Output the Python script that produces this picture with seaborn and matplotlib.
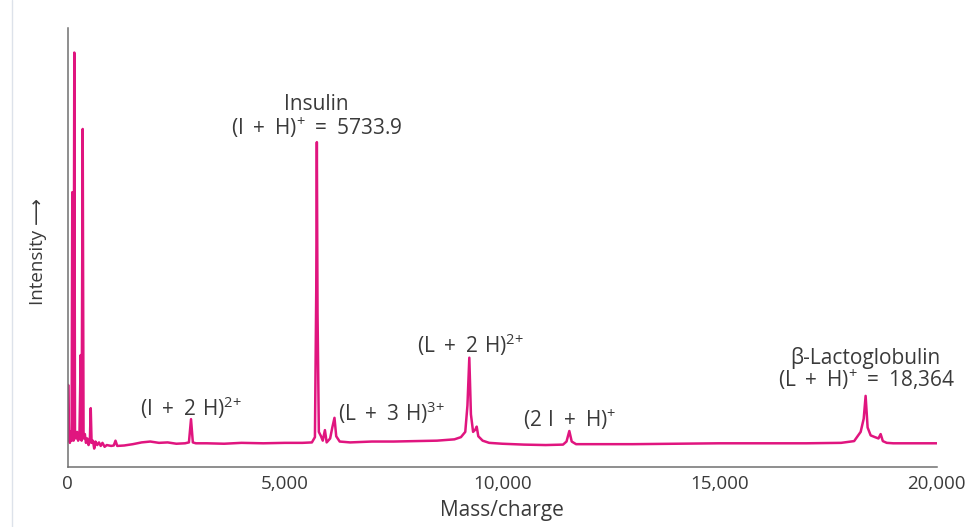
import matplotlib
matplotlib.use("Agg")
import matplotlib.pyplot as plt
import seaborn as sns
import pandas as pd
from matplotlib.lines import Line2D

# ---- data (m/z, relative intensity) ----
mz = [0, 10, 30, 50, 70, 90, 106, 118, 135, 152, 168, 190, 215, 240, 270, 299,
      320, 345, 365, 395, 420, 450, 480, 510, 530, 550, 580, 610, 640, 680, 720,
      760, 800, 850, 900, 1000, 1060, 1100, 1140, 1300, 1500, 1700, 1900, 2100,
      2300, 2500, 2700, 2790, 2838, 2880, 2950, 3200, 3600, 4000, 4500, 5000,
      5400, 5620, 5690, 5720, 5734, 5750, 5780, 5830, 5870, 5920, 5960, 6040,
      6090, 6140, 6180, 6260, 6500, 7000, 7500, 8000, 8500, 8900, 9050, 9150,
      9200, 9243, 9280, 9330, 9380, 9413, 9450, 9550, 9700, 10000, 10500,
      11000, 11400, 11480, 11545, 11600, 11700, 12000, 13000, 14000, 15000,
      16000, 17000, 17800, 18100, 18250, 18320, 18364, 18410, 18480, 18580,
      18660, 18710, 18760, 18850, 19000, 19500, 20000]
intensity = [6, 18.7, 7, 5.5, 8, 6, 62.6, 7, 6, 94.4, 7, 6.5, 8, 6, 7, 25.5,
             6, 77, 6.5, 7.5, 5.5, 6.5, 5, 6, 13.4, 5.5, 6, 4.2, 5.8, 5, 5.6,
             4.8, 5.5, 4.6, 5.0, 4.8, 4.9, 6.0, 4.8, 4.9, 5.2, 5.6, 5.8, 5.5,
             5.6, 5.3, 5.4, 5.6, 10.9, 5.6, 5.4, 5.4, 5.3, 5.5, 5.4, 5.5,
             5.5, 5.6, 6.8, 40, 74, 35, 8, 7, 6, 8.4, 5.6, 6.5,
             9, 11.2, 7, 5.8, 5.6, 5.8, 5.8, 5.9, 6.0, 6.3, 6.8, 8,
             14, 24.9, 12, 8, 8.5, 9.2, 7, 6, 5.5, 5.3, 5.1,
             5.0, 5.1, 5.8, 8.2, 5.8, 5.2, 5.2, 5.2, 5.3, 5.4,
             5.4, 5.4, 5.5, 5.9, 8, 11, 16.2, 9, 7.2, 6.8,
             6.5, 7.5, 5.9, 5.5, 5.4, 5.4, 5.4]

xticks = [0, 5000, 10000, 15000, 20000]
xtick_labels = ["0", "5,000", "10,000", "15,000", "20,000"]

ann_text = ["Insulin",
            r"$(I\;+\;H)^{+}\;=\;5733.9$",
            r"$(I\;+\;2\ H)^{2{+}}$",
            r"$(L\;+\;3\ H)^{3{+}}$",
            r"$(L\;+\;2\ H)^{2{+}}$",
            r"$(2\ I\;+\;H)^{+}$",
            "β-Lactoglobulin",
            r"$(L\;+\;H)^{+}\;=\;18{,}364$"]
ann_x = [5720, 5720, 2838, 7460, 9260, 11560, 18360, 18380]
ann_y = [82.5, 77.2, 13.4, 12.3, 27.8, 10.7, 24.8, 19.8]

df = pd.DataFrame({"mz": mz, "intensity": intensity})

sns.set_theme(style="white")
plt.rcParams["font.family"] = ["Open Sans", "DejaVu Sans"]
plt.rcParams["mathtext.default"] = "regular"

LINE = "#E0157F"
TEXT = "#3a3a3a"
AXC = "#707070"

fig = plt.figure(figsize=(9.7, 5.27), dpi=100)
ax = fig.add_axes([67.7 / 970, 1 - 467 / 527, 869 / 970, 439 / 527])

sns.lineplot(data=df, x="mz", y="intensity", ax=ax, color=LINE,
             linewidth=1.8, estimator=None, sort=False)

ax.set_xlim(0, 20000)
ax.set_ylim(0, 100)
ax.set_yticks([])
ax.set_xticks(xticks)
ax.set_xticklabels(xtick_labels)
ax.tick_params(axis="x", direction="in", length=8.5, width=1.1, color=AXC,
               labelsize=13.5, labelcolor=TEXT, pad=6)
for s in ["top", "right"]:
    ax.spines[s].set_visible(False)
for s in ["left", "bottom"]:
    ax.spines[s].set_color(AXC)
    ax.spines[s].set_linewidth(1.1)

ax.set_xlabel("Mass/charge", fontsize=15, color=TEXT)
ax.xaxis.label.set_va("center")
ax.xaxis.set_label_coords(0.5, -0.098)
ax.set_ylabel("Intensity ⟶", fontsize=13.5, color=TEXT)
ax.yaxis.label.set_va("center")
ax.yaxis.set_label_coords(-0.034, 0.49)

for t, x, y in zip(ann_text, ann_x, ann_y):
    ax.text(x, y, t, ha="center", va="center", fontsize=15, color=TEXT)

fig.add_artist(Line2D([12 / 970, 12 / 970], [0, 1], transform=fig.transFigure,
                      color="#dde2ea", linewidth=1))

fig.savefig("out.png", dpi=100, facecolor="white")
